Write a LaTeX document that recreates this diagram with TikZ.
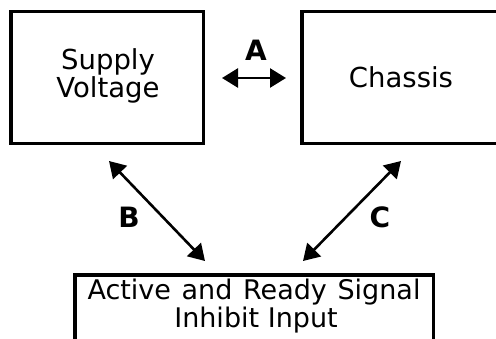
\documentclass[tikz,border=0pt]{standalone}
\usepackage{fontspec}
\setmainfont{DejaVu Sans}
\usetikzlibrary{arrows.meta}
\begin{document}
\begin{tikzpicture}[x=1pt,y=-1pt,
  blk/.style={draw=black,line width=3.8pt,inner sep=0pt},
  conn/.style={line width=2.6pt,{Triangle[length=16pt,width=19pt]}-{Triangle[length=16pt,width=19pt]}},
  lbl/.style={font=\fontsize{28}{28}\selectfont\bfseries,inner sep=0pt},
  txt/.style={font=\fontsize{27.5}{26}\selectfont,inner sep=0pt,align=center}]
\useasboundingbox (0,0) rectangle (496,338);
\clip (0,0) rectangle (496,338);
\draw[blk] (11,11.5) rectangle (203.5,143.5);
\draw[blk] (302,11.5) rectangle (500,143.5);
\draw[blk] (75,275) rectangle (433.5,345);
\node[txt] (sv) at (108,76) {Supply\\Voltage};
\node[txt] (ch) at (401,77) {Chassis};
\node[font=\fontsize{27}{27}\selectfont,inner sep=0pt,anchor=base] (ar) at (254,299) {\hbox to 333pt{Active\hfill and\hfill Ready\hfill Signal}};
\node[font=\fontsize{27}{27}\selectfont,inner sep=0pt,anchor=base] (ii) at (256,327) {Inhibit Input};
\coordinate (a1) at (222,78);
\coordinate (a2) at (286,78);
\coordinate (b1) at (109,161);
\coordinate (b2) at (205,261);
\coordinate (c1) at (401,161);
\coordinate (c2) at (303,261);
\draw[conn] (a1) -- (a2);
\draw[conn] (b1) -- (b2);
\draw[conn] (c1) -- (c2);
\node[lbl] (A) at (256,50) {A};
\node[lbl] (B) at (129,217) {B};
\node[lbl] (C) at (380,217) {C};
\end{tikzpicture}
\end{document}
